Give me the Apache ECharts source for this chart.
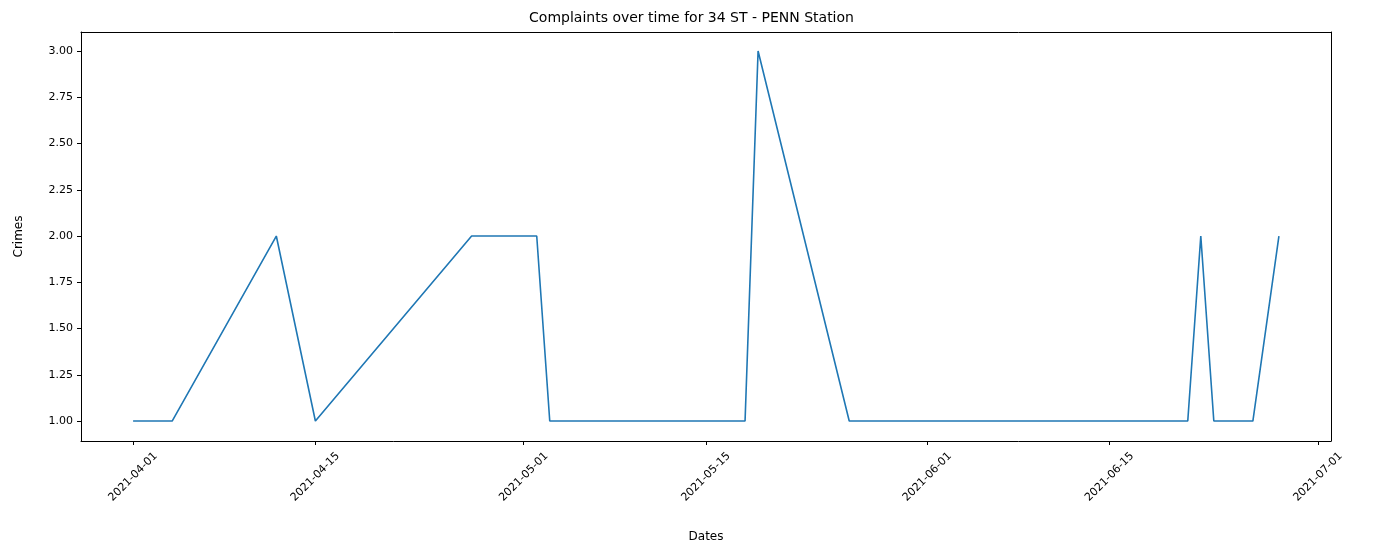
<!DOCTYPE html>
<html>
<head>
<meta charset="utf-8">
<script src="https://cdn.jsdelivr.net/npm/echarts@6/dist/echarts.min.js"></script>
<style>html,body{margin:0;padding:0;background:#fff}#chart{width:1383px;height:556px}</style>
</head>
<body>
<div id="chart"></div>
<script>
// 数据
var pointDates = ['2021-04-01','2021-04-04','2021-04-12','2021-04-15','2021-04-27','2021-05-02','2021-05-03',
    '2021-05-18','2021-05-19','2021-05-26','2021-06-21','2021-06-22','2021-06-23','2021-06-26','2021-06-28'];
var crimes = [1, 1, 2, 1, 2, 2, 1, 1, 3, 1, 1, 2, 1, 1, 2];
var tickDates = ['2021-04-01','2021-04-15','2021-05-01','2021-05-15','2021-06-01','2021-06-15','2021-07-01'];
var yTicks = [1, 1.25, 1.5, 1.75, 2, 2.25, 2.5, 2.75, 3];

// 生成每日类目
function fmt(d) {
    return d.toISOString().slice(0, 10);
}
var days = [];
var start = new Date(Date.UTC(2021, 2, 28));
for (var i = 0; i <= 96; i++) {
    days.push(fmt(new Date(start.getTime() + i * 86400000)));
}

var chart = echarts.init(document.getElementById('chart'));
var font = 'DejaVu Sans';
chart.setOption({
    title: {
        text: 'Complaints over time for 34 ST - PENN Station',
        left: 'center', top: 6,
        textStyle: {fontFamily: font, fontSize: 14, fontWeight: 'normal', color: '#000'}
    },
    grid: {left: 81, right: 52, top: 32, bottom: 115},
    xAxis: [{
        type: 'category', data: days, boundaryGap: false,
        name: 'Dates', nameLocation: 'middle', nameGap: 90,
        nameTextStyle: {fontFamily: font, fontSize: 12, color: '#000'},
        axisLine: {lineStyle: {color: '#000'}},
        axisTick: {interval: function (i, v) { return tickDates.indexOf(v) >= 0; }, length: 4, lineStyle: {color: '#000'}},
        axisLabel: {interval: function (i, v) { return tickDates.indexOf(v) >= 0; }, rotate: 45,
            align: 'center', verticalAlign: 'middle',
            fontFamily: font, fontSize: 11, color: '#000', margin: 36},
        splitLine: {show: false}
    }, {
        type: 'category', data: days, position: 'top', boundaryGap: false,
        axisLine: {lineStyle: {color: '#000'}}, axisTick: {show: false}, axisLabel: {show: false}
    }],
    yAxis: [{
        type: 'value', min: 0.892, max: 3.103,
        name: 'Crimes', nameLocation: 'middle', nameGap: 56,
        nameTextStyle: {fontFamily: font, fontSize: 12, color: '#000'},
        axisLine: {show: true, lineStyle: {color: '#000'}},
        axisTick: {show: true, customValues: yTicks, length: 4, lineStyle: {color: '#000'}},
        axisLabel: {customValues: yTicks, fontFamily: font, fontSize: 11, color: '#000',
            formatter: function (v) { return v.toFixed(2); }},
        splitLine: {show: false}
    }, {
        type: 'value', min: 0.892, max: 3.103, position: 'right',
        axisLine: {show: true, lineStyle: {color: '#000'}}, axisTick: {show: false},
        axisLabel: {show: false}, splitLine: {show: false}
    }],
    series: [{
        type: 'line',
        data: pointDates.map(function (d, i) { return [d, crimes[i]]; }),
        showSymbol: false,
        lineStyle: {color: '#1f77b4', width: 1.6},
        animation: false
    }]
});
</script>
</body>
</html>
